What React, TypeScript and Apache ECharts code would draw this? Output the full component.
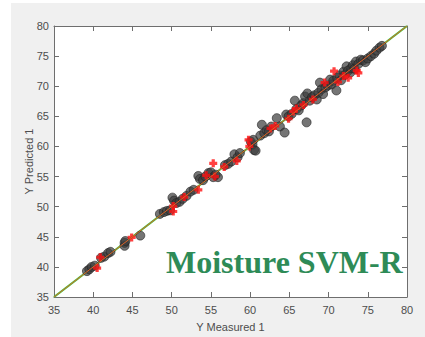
import React, { useEffect, useRef } from "react";
import * as echarts from "echarts";

const axisMin = 35;
const axisMax = 80;
const tickStep = 5;

const calibration: number[][] = [
  [39.2, 39.3], [39.5, 39.6], [39.8, 40.0], [40.2, 40.2], [41.0, 41.5], [41.4, 41.7], [41.9, 42.3], [42.2, 42.5],
  [44.0, 43.5], [44.0, 44.0], [44.1, 44.3], [46.0, 45.2],
  [48.5, 48.8], [49.0, 49.1], [49.4, 49.3], [49.8, 49.4], [50.1, 51.5], [50.3, 51.0], [50.6, 50.6], [51.0, 50.8],
  [51.4, 51.3], [51.9, 51.8], [52.4, 52.5], [52.8, 52.8],
  [53.4, 55.1], [53.6, 54.6], [54.0, 54.4], [54.3, 55.0], [54.7, 55.6], [55.0, 55.7], [55.3, 54.9], [55.9, 54.9], [55.6, 55.3],
  [56.8, 56.9], [57.2, 57.1], [57.6, 57.5], [58.0, 58.7], [58.4, 58.2], [58.7, 58.9],
  [60.1, 60.8], [60.3, 60.3], [60.5, 59.4], [60.7, 59.3], [60.4, 61.1],
  [61.3, 61.8], [61.5, 63.6], [61.8, 62.2], [62.1, 62.7], [62.4, 62.5], [62.7, 63.3], [63.4, 64.7], [63.8, 63.3], [64.4, 62.3], [64.6, 65.3],
  [64.9, 65.0], [65.3, 65.4], [65.7, 67.6], [65.9, 66.2], [66.2, 66.0], [66.5, 66.8], [66.8, 67.2], [67.0, 68.3], [67.2, 64.0],
  [67.3, 68.8], [67.6, 67.6], [67.9, 68.2], [68.2, 68.5], [68.5, 67.8], [68.7, 68.9],
  [68.9, 70.6], [69.1, 69.5], [69.3, 68.7], [69.6, 69.8], [69.9, 70.1], [70.2, 71.1], [70.4, 70.3], [70.6, 70.9], [71.0, 69.3],
  [71.1, 71.4], [71.4, 71.8], [71.6, 71.0], [71.9, 72.4], [72.1, 71.9], [72.3, 73.3], [72.5, 72.6], [72.8, 72.3], [72.9, 73.0],
  [73.1, 73.5], [73.3, 72.9], [73.5, 74.1], [73.8, 73.7], [74.1, 74.4], [74.4, 74.3], [74.7, 74.0], [75.0, 74.6], [75.4, 75.0],
  [75.8, 75.4], [76.1, 75.9], [76.5, 76.4], [76.8, 76.7],
];

const validation: number[][] = [
  [40.5, 39.8], [40.9, 41.6], [44.9, 44.9], [50.2, 49.2], [50.2, 50.1], [51.6, 51.6], [53.4, 52.8], [54.4, 55.2],
  [55.3, 57.2], [55.5, 55.0], [56.7, 56.6], [58.3, 57.6], [59.8, 61.1], [59.9, 60.0], [62.6, 63.0], [63.2, 63.4],
  [64.9, 64.6], [65.5, 65.8], [65.9, 66.3], [66.8, 66.9], [68.0, 67.8], [69.5, 70.6], [70.7, 72.5], [71.2, 70.7],
  [71.9, 71.7], [72.5, 71.4], [73.6, 72.6], [73.8, 72.2],
];

const fitLine: number[][] = [[35, 35], [80, 80]];

const labelColor = "#4d4d4d";
const axisColor = "#6e6e6e";
const font = "Liberation Sans";

export default function App() {
  const ref = useRef<HTMLDivElement>(null);
  useEffect(() => {
    if (!ref.current) return;
    const chart = echarts.init(ref.current, undefined, { renderer: "svg" });
    const baseAxis = {
      type: "value" as const,
      min: axisMin,
      max: axisMax,
      interval: tickStep,
      splitLine: { show: false },
      axisLine: { show: true, onZero: false, lineStyle: { color: axisColor, width: 1 } },
      axisTick: { show: true, inside: true, length: 5, lineStyle: { color: axisColor } },
    };
    chart.setOption({
      animation: false,
      backgroundColor: "#ffffff",
      graphic: [
        { type: "rect", z: -10, shape: { x: 11, y: 3, width: 414, height: 334 }, style: { fill: "#f0f0f0" }, silent: true },
        {
          type: "text",
          z: 100,
          style: {
            x: 166,
            y: 246,
            text: "Moisture SVM-R",
            fill: "#2e8b57",
            font: 'bold 32px "Liberation Serif"',
            textBaseline: "alphabetic",
          },
        },
      ],
      grid: { left: 54, top: 26, width: 353, height: 278, show: true, backgroundColor: "#ffffff", borderWidth: 0 },
      xAxis: [
        {
          ...baseAxis,
          position: "bottom",
          name: "Y Measured 1",
          nameLocation: "middle",
          nameGap: 24,
          nameMoveOverlap: false,
          nameTextStyle: { color: labelColor, fontSize: 11, fontFamily: font },
          axisLabel: { color: labelColor, fontSize: 11, fontFamily: font, margin: 7 },
        },
        { ...baseAxis, position: "top", axisLabel: { show: false } },
      ],
      yAxis: [
        {
          ...baseAxis,
          position: "left",
          name: "Y Predicted 1",
          nameLocation: "middle",
          nameGap: 20,
          nameMoveOverlap: false,
          nameTextStyle: { color: labelColor, fontSize: 11, fontFamily: font },
          axisLabel: { color: labelColor, fontSize: 11, fontFamily: font, margin: 5 },
        },
        { ...baseAxis, position: "right", axisLabel: { show: false } },
      ],
      series: [
        {
          type: "line",
          data: fitLine,
          symbol: "none",
          lineStyle: { color: "#3cc83c", width: 2.2 },
          z: 1,
        },
        {
          type: "scatter",
          data: calibration,
          symbol: "circle",
          symbolSize: 9,
          itemStyle: { color: "rgba(60,60,60,0.88)", borderColor: "#222222", borderWidth: 0.8 },
          z: 2,
        },
        {
          type: "scatter",
          data: validation,
          symbol: "path://M3,0H7V3H10V7H7V10H3V7H0V3H3Z",
          symbolSize: 8,
          itemStyle: { color: "#ff1010" },
          z: 3,
        },
        {
          type: "line",
          data: fitLine,
          symbol: "none",
          lineStyle: { color: "#e0602a", width: 1 },
          z: 4,
        },
      ],
    });
    return () => chart.dispose();
  }, []);
  return <div ref={ref} style={{ position: "absolute", left: 0, top: 0, width: 425, height: 337 }} />;
}
